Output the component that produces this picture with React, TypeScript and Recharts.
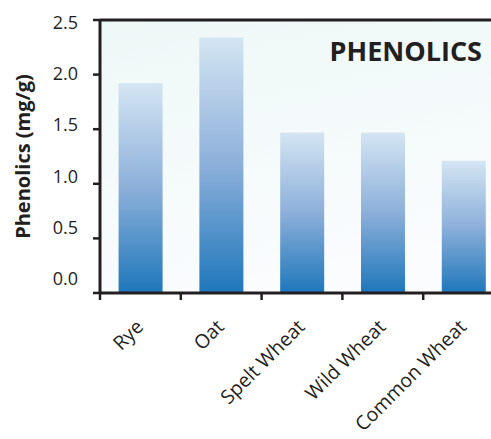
import { BarChart, Bar, XAxis, YAxis, CartesianGrid, ReferenceLine } from 'recharts';

const grains = ['Rye', 'Oat', 'Spelt Wheat', 'Wild Wheat', 'Common Wheat'];
const phenolics = [1.92, 2.34, 1.47, 1.47, 1.21];
const yTicks = [0, 0.5, 1.0, 1.5, 2.0, 2.5];

const data = grains.map((name, i) => ({ name, value: phenolics[i] }));

const INK = '#231f20';
const FONT = '"Open Sans", sans-serif';

// category label plus a boundary tick at the left edge of each band
function GrainTick(props: any) {
  const { x, y, payload } = props;
  const edge = x - (payload.offset ?? 0);
  const lx = x + 4;
  const ly = y + 28;
  return (
    <g>
      <line x1={edge} x2={edge} y1={y - 7} y2={y} stroke={INK} strokeWidth={2.5} />
      <text
        x={lx}
        y={ly}
        transform={`rotate(-45, ${lx}, ${ly})`}
        textAnchor="end"
        fill={INK}
        fontSize={19.5}
        fontFamily={FONT}
      >
        {payload.value}
      </text>
    </g>
  );
}

// value labels sit on a slightly tighter pitch than the ticks
function ValueTick(props: any) {
  const { x, y, payload } = props;
  const steps = (2.5 - payload.value) / 0.5;
  const shift = 2 - steps * 3.4;
  return (
    <text
      x={x}
      y={y + shift}
      textAnchor="end"
      dominantBaseline="central"
      fill={INK}
      fontSize={18}
      fontFamily={FONT}
    >
      {payload.value.toFixed(1)}
    </text>
  );
}

function YTitle(props: any) {
  const { viewBox } = props;
  const cx = viewBox.x + 22;
  const cy = viewBox.y + viewBox.height / 2;
  return (
    <text
      x={cx}
      y={cy}
      transform={`rotate(-90, ${cx}, ${cy})`}
      textAnchor="middle"
      dominantBaseline="central"
      fill={INK}
      fontSize={20}
      fontWeight={700}
      fontFamily={FONT}
    >
      Phenolics (mg/g)
    </text>
  );
}

export default function App() {
  return (
    <div style={{ position: 'fixed', left: 0, top: 0, width: 491, height: 439, overflow: 'hidden', background: '#fff' }}>
      <BarChart
        width={504}
        height={439}
        data={data}
        margin={{ top: 20, right: 0, bottom: 0, left: 0 }}
        barCategoryGap="23%"
      >
        <defs>
          <linearGradient id="plotBg" x1="0" y1="0" x2="0.3" y2="1">
            <stop offset="0%" stopColor="#eef8f7" />
            <stop offset="100%" stopColor="#fafcfe" />
          </linearGradient>
          <linearGradient id="barFill" x1="0" y1="0" x2="0" y2="1">
            <stop offset="0%" stopColor="#d4e5f3" />
            <stop offset="50%" stopColor="#8cafd9" />
            <stop offset="100%" stopColor="#1e77bb" />
          </linearGradient>
        </defs>
        <CartesianGrid fill="url(#plotBg)" stroke="none" horizontal={false} vertical={false} />
        <XAxis
          dataKey="name"
          interval={0}
          height={146}
          axisLine={{ stroke: INK, strokeWidth: 3 }}
          tickLine={false}
          tickSize={7}
          tickMargin={0}
          tick={<GrainTick />}
        />
        <YAxis
          width={100}
          domain={[0, 2.5]}
          ticks={yTicks}
          axisLine={{ stroke: INK, strokeWidth: 3 }}
          tickLine={{ stroke: INK, strokeWidth: 2.5 }}
          tickSize={7}
          tickMargin={15}
          tick={<ValueTick />}
          label={{ content: <YTitle /> }}
        />
        <ReferenceLine
          y={2.5}
          stroke={INK}
          strokeWidth={3}
          label={{
            value: 'PHENOLICS',
            position: 'insideTopRight',
            offset: 22,
            fill: INK,
            fontSize: 27,
            fontWeight: 700,
            fontFamily: FONT,
          }}
        />
        <Bar dataKey="value" fill="url(#barFill)" isAnimationActive={false} />
      </BarChart>
    </div>
  );
}
